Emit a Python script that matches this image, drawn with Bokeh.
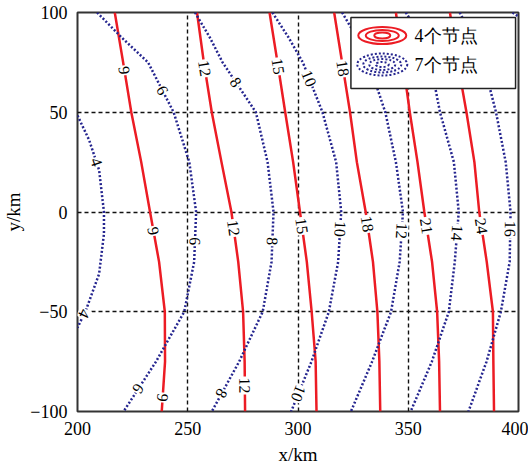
import numpy as np
from bokeh.plotting import figure
from bokeh.models import FixedTicker, Label, ColumnDataSource
from bokeh.core.properties import value
from bokeh.embed import file_html
from bokeh.resources import INLINE

# ---------------- data ----------------
x_ticks = [200, 250, 300, 350, 400]
y_ticks = [-100, -50, 0, 50, 100]
y_tick_labels = ["\u2212100", "\u221250", "0", "50", "100"]

# red solid contours (4 nodes): x at these y
red_y = [100, 75, 50, 25, 0, -25, -50, -75, -100]
red_9_x = [216.9, 220.7, 224.4, 228.9, 232.9, 237.0, 239.6, 239.7, 238.2]
red_12_x = [254.2, 257.3, 260.9, 265.3, 269.8, 272.9, 275.1, 275.8, 276.0]
red_15_x = [287.1, 290.7, 294.2, 297.8, 300.9, 304.0, 306.2, 308.0, 308.4]
red_18_x = [316.4, 320.0, 323.6, 326.7, 330.7, 334.0, 336.0, 336.9, 337.3]
red_21_x = [344.4, 347.6, 350.7, 354.2, 357.3, 360.8, 363.1, 364.0, 364.4]
red_24_x = [368.9, 372.4, 376.4, 380.0, 382.2, 385.6, 388.4, 388.6, 388.9]
red_levels = [9, 12, 15, 18, 21, 24]
red_label_y = [[71, -9.5, -93], [72, -8, -87], [73, -7], [72, -6], [-7], [-7]]

# blue dotted contours (7 nodes)
blue_y = [100, 87.5, 75, 50, 25, 0, -25, -50, -75, -100]
blue_6_x = [208.9, 220.0, 232.0, 243.6, 250.7, 253.8, 252.9, 248.4, 235.6, 220.9]
blue_8_x = [253.3, 260.0, 265.8, 280.9, 286.2, 288.9, 288.0, 284.0, 273.3, 260.9]
blue_10_x = [288.4, 295.7, 302.2, 311.1, 317.3, 319.6, 318.2, 314.0, 306.1, 296.9]
blue_12_x = [320.0, 326.7, 332.0, 339.6, 344.4, 347.6, 346.1, 342.2, 333.6, 324.0]
blue_14_x = [348.9, 355.6, 360.0, 364.4, 370.7, 372.9, 371.1, 368.4, 360.7, 351.1]
blue_16_x = [373.3, 379.6, 384.0, 389.8, 394.2, 396.4, 396.0, 392.0, 385.5, 377.3]
blue_4_y = [48.4, 36, 21, 0, -11, -31, -49, -58]
blue_4_x = [200.0, 205.3, 209.8, 212.0, 212.0, 209.8, 203.9, 200.0]
blue_18_y = [100, 98]
blue_18_x = [397.3, 400.0]
blue_levels = [4, 6, 8, 10, 12, 14, 16, 18]
blue_label_y = [[25, -51], [61, -14.7, -88.5], [65, -14.7, -91], [67, -8.5, -91],
                [-9.5], [-10.5], [-8.5], []]

legend_names = ["4个节点", "7个节点"]

# ---------------- styling / layout ----------------
RED = "#ec1c24"
BLUE = "#25258f"
SERIF = "Liberation Serif"
W, H = 528, 467
ML, MR, MT, MB = 68, 10, 12, 56
FW, FH = W - ML - MR, H - MT - MB
X0, X1, Y0, Y1 = 200, 400, -100, 100
KX = FW / (X1 - X0)   # px per km
KY = FH / (Y1 - Y0)

def dx(px):  # screen offset from frame left -> data x
    return X0 + px / KX

def dy(py):  # screen offset from frame top -> data y
    return Y1 - py / KY

p = figure(width=W, height=H, x_range=(X0, X1), y_range=(Y0, Y1),
           output_backend="svg", toolbar_location=None,
           min_border_left=ML, min_border_right=MR, min_border_top=MT, min_border_bottom=MB)
p.background_fill_color = "white"
p.border_fill_color = "white"
p.outline_line_color = "#333333"
p.outline_line_width = 2

for ax in (p.xaxis, p.yaxis):
    ax.axis_line_color = None
    ax.major_tick_line_color = None
    ax.minor_tick_line_color = None
    ax.major_label_text_font = SERIF
    ax.major_label_text_font_size = "18px"
    ax.major_label_text_color = "black"
    ax.major_label_standoff = 4
    ax.axis_label_text_font = SERIF
    ax.axis_label_text_font_style = "normal"
    ax.axis_label_text_font_size = "19px"
    ax.axis_label_text_color = "black"
p.xaxis.ticker = FixedTicker(ticks=x_ticks)
p.yaxis.ticker = FixedTicker(ticks=y_ticks)
p.yaxis.major_label_overrides = {t: s for t, s in zip(y_ticks, y_tick_labels)}

p.xaxis.axis_label = "x/km"
p.xaxis.axis_label_standoff = 6
p.yaxis.axis_label = "y/km"
p.yaxis.axis_label_standoff = 3

p.xgrid.ticker = FixedTicker(ticks=x_ticks[1:-1])
p.ygrid.ticker = FixedTicker(ticks=y_ticks[1:-1])
for g in (p.xgrid, p.ygrid):
    g.grid_line_color = "#111111"
    g.grid_line_dash = "4 3"
    g.grid_line_width = 1.4

red_series = [red_9_x, red_12_x, red_15_x, red_18_x, red_21_x, red_24_x]
blue_series = [(blue_4_x, blue_4_y), (blue_6_x, blue_y), (blue_8_x, blue_y),
               (blue_10_x, blue_y), (blue_12_x, blue_y), (blue_14_x, blue_y),
               (blue_16_x, blue_y), (blue_18_x, blue_18_y)]

lab_x, lab_y, lab_t, lab_a = [], [], [], []

def add_labels(xs, ys, lev, ylist):
    ys_a = np.asarray(ys, float)[::-1]
    xs_a = np.asarray(xs, float)[::-1]
    for yl in ylist:
        xl = float(np.interp(yl, ys_a, xs_a))
        xa = float(np.interp(yl + 3, ys_a, xs_a))
        xb = float(np.interp(yl - 3, ys_a, xs_a))
        ang = np.arctan2(-6 * KY, (xb - xa) * KX)  # direction going down
        lab_x.append(xl); lab_y.append(yl); lab_t.append(str(lev)); lab_a.append(ang)

for xs, lev, yl in zip(red_series, red_levels, red_label_y):
    p.line(xs, red_y, line_color=RED, line_width=2.5)
    add_labels(xs, red_y, lev, yl)

for (xs, ys), lev, yl in zip(blue_series, blue_levels, blue_label_y):
    p.line(xs, ys, line_color=BLUE, line_width=2.5, line_dash="2 2")
    add_labels(xs, ys, lev, yl)

src = ColumnDataSource(dict(x=lab_x, y=lab_y, t=lab_t, a=lab_a))
p.text(x="x", y="y", text="t", angle="a", source=src,
       text_font=value(SERIF), text_font_size="16px", text_color="black",
       text_align="center", text_baseline="middle",
       background_fill_color="white", padding=1)

# ---------------- legend (drawn manually) ----------------
leg_l, leg_r, leg_t, leg_b = 279, 447, 5, 76   # px inside frame
box = p.quad(left=[dx(leg_l)], right=[dx(leg_r)], top=[dy(leg_t)], bottom=[dy(leg_b)],
             fill_color="white", fill_alpha=1.0, line_color="#222222", line_width=1.5)
box.level = "overlay"
icon_cx = dx(311)
row_y = [dy(23), dy(52)]
red_rings = [(48, 17), (33, 11), (16, 6)]
blue_rings = [(50, 22), (38, 16), (26, 11), (13, 5)]
for w_, h_ in red_rings:
    r = p.ellipse(x=[icon_cx], y=[row_y[0]], width=w_, height=h_,
                  width_units="screen", height_units="screen",
                  fill_color=None, line_color=RED, line_width=2)
    r.level = "overlay"
for w_, h_ in blue_rings:
    r = p.ellipse(x=[icon_cx], y=[row_y[1]], width=w_, height=h_,
                  width_units="screen", height_units="screen",
                  fill_color=None, line_color=BLUE, line_width=2, line_dash="2 2")
    r.level = "overlay"
for name, yy in zip(legend_names, row_y):
    p.add_layout(Label(x=dx(344), y=yy, text=name, text_font=SERIF,
                       text_font_size="18px", text_color="black",
                       text_baseline="middle", text_align="left", level="overlay"))

open("out.html", "w").write(file_html(p, INLINE))
